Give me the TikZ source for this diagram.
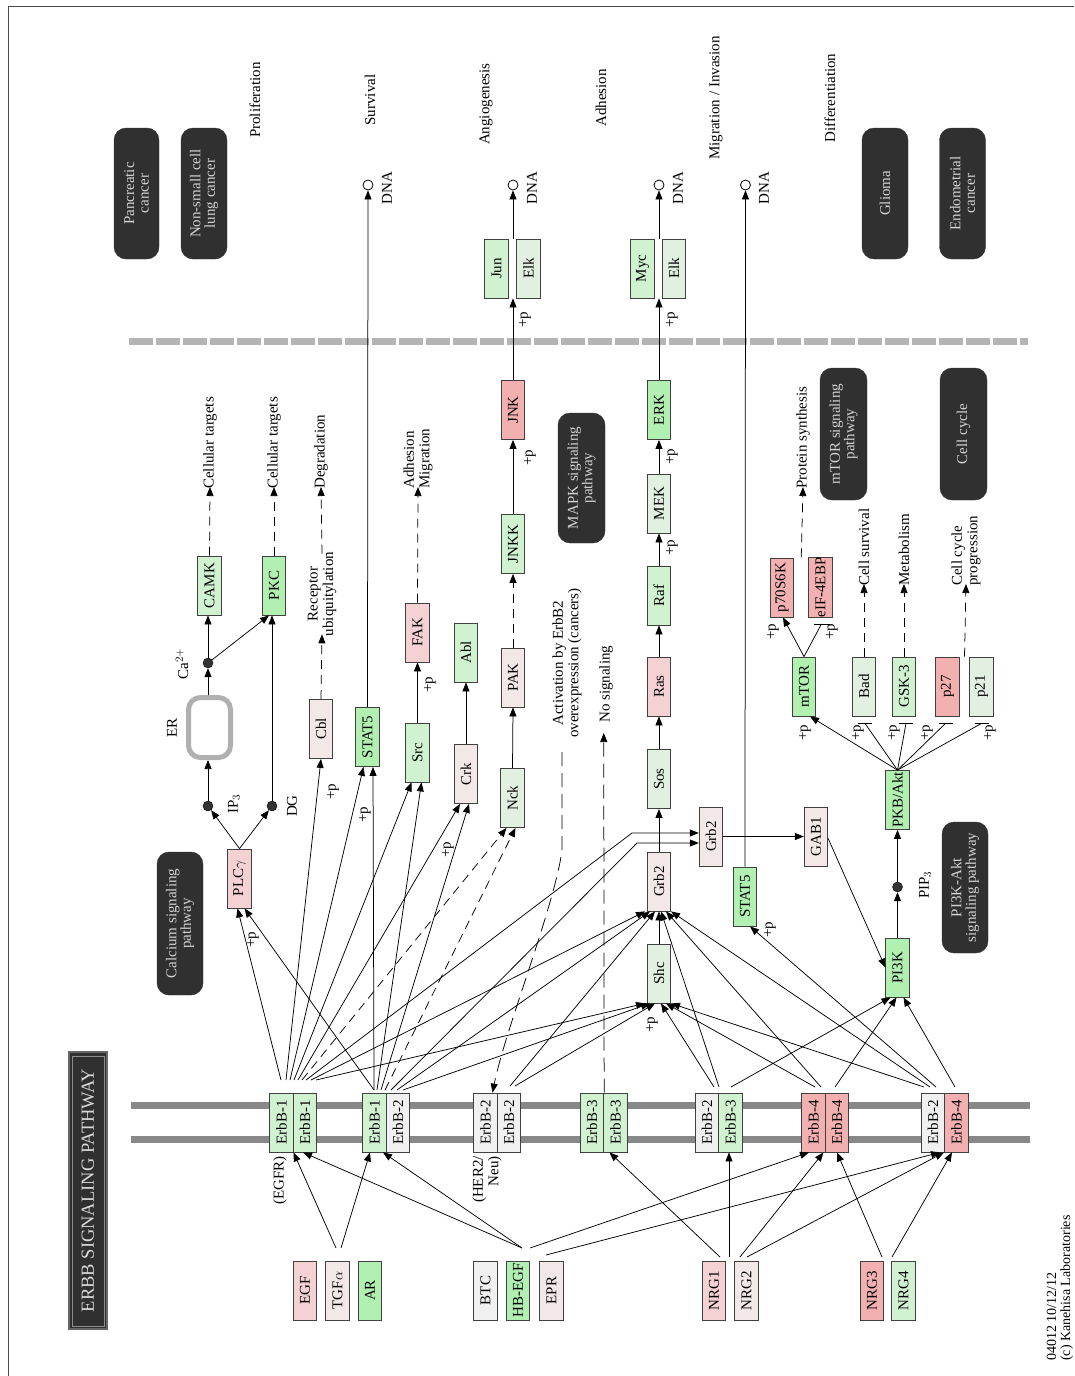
\documentclass[tikz,border=0pt]{standalone}
\usepackage{fontspec}
\setmainfont{Liberation Serif}
\usepackage{tikz}
\usetikzlibrary{arrows.meta, calc}
\definecolor{GreenHi}{HTML}{B2F0B2}
\definecolor{GreenMid}{HTML}{D0F2D0}
\definecolor{GreenLo}{HTML}{E2F0E2}
\definecolor{GrayLo}{HTML}{F0F0F0}
\definecolor{PinkLo}{HTML}{F2E8E8}
\definecolor{PinkMid}{HTML}{F4D2D4}
\definecolor{PinkHi}{HTML}{F2B0B0}
\definecolor{PathFill}{HTML}{303030}
\definecolor{PathText}{HTML}{D4D4D4}
\definecolor{MembGray}{HTML}{888888}
\definecolor{NucGray}{HTML}{B4B4B4}
\definecolor{ERgray}{HTML}{B0B0B0}
\newcommand{\kfont}{\fontsize{15}{15.5}\selectfont}
\newcommand{\vtxt}[1]{\rotatebox{90}{#1}}

\begin{document}
\begin{tikzpicture}[x=1pt, y=-1pt]
    \tikzset{%
        gene/.style={draw=black!75, line width=0.8pt, minimum width=23.5pt, minimum height=59pt, inner sep=0pt, font=\kfont},
        pathbox/.style={fill=PathFill, draw=black!80, rounded corners=12pt, rotate=90, text=PathText, align=center, font=\fontsize{15}{14.5}\selectfont, inner sep=0pt},
        lbl/.style={rotate=90, font=\kfont, inner sep=1pt, align=center},
        link/.style={line width=0.75pt, -{Triangle[length=9pt,width=7pt]}},
        plain/.style={line width=0.75pt},
        dlink/.style={link, dash pattern=on 9pt off 6pt},
        dot/.style={circle, fill=black!80, draw=black, minimum size=10pt, inner sep=0pt},
        dna/.style={circle, draw=black, fill=white, line width=0.8pt, minimum size=10pt, inner sep=0pt},
    }
    \useasboundingbox (0,0) rectangle (1074,1376);

    % frame
    \draw[line width=1pt, black!70] (8.5,1376) -- (8.5,6.5) -- (1074,6.5);

    % membrane and nucleus
    \draw[MembGray, line width=7pt] (131,1105) -- (1030,1105);
    \draw[MembGray, line width=7pt] (131,1139) -- (1030,1139);
    \draw[NucGray, line width=7pt, dash pattern=on 23.5pt off 3.5pt] (129,341) -- (1028,341);

    % title
    \node[pathbox, rounded corners=0pt, draw=black!60, line width=1.5pt, minimum width=277pt, minimum height=38pt, font=\fontsize{18.5}{18.5}\selectfont, text=black!15] (title) at (88,1190.5) {ERBB SIGNALING PATHWAY};
    \draw[black!45, line width=0.8pt] (72,1056) rectangle (104,1326);

    % pathway boxes
    \node[pathbox, minimum width=131pt, minimum height=45pt] (pancreatic) at (136.5,193.5) {Pancreatic\\cancer};
    \node[pathbox, minimum width=131pt, minimum height=46pt] (nsclc) at (204,193.5) {Non-small cell\\lung cancer};
    \node[pathbox, minimum width=131pt, minimum height=46pt] (glioma) at (885,193.5) {Glioma};
    \node[pathbox, minimum width=131pt, minimum height=46pt] (endometrial) at (962.5,193.5) {Endometrial\\cancer};
    \node[pathbox, minimum width=143pt, minimum height=46pt] (calcium) at (180,923.5) {Calcium signaling\\pathway};
    \node[pathbox, minimum width=130pt, minimum height=47pt] (mapk) at (581.5,478) {MAPK signaling\\pathway};
    \node[pathbox, minimum width=132pt, minimum height=47pt] (mtorpath) at (843.5,434) {mTOR signaling\\pathway};
    \node[pathbox, minimum width=132pt, minimum height=47pt] (cellcycle) at (963.5,434) {Cell cycle};
    \node[pathbox, minimum width=131pt, minimum height=46pt] (pi3kakt) at (965,887.5) {PI3K-Akt\\signaling pathway};

    % outcomes
    \node[lbl] (prolif) at (255,100) {Proliferation};
    \node[lbl] (surv) at (370,100) {Survival};
    \node[lbl] (angio) at (486,104) {Angiogenesis};
    \node[lbl] (adhes) at (601,98) {Adhesion};
    \node[lbl] (migr) at (716,98) {Migration / Invasion};
    \node[lbl] (diff) at (830,98) {Differentiation};

    % ligands
    \node[gene, fill=PinkMid] (egf) at (305,1290.5) {\vtxt{EGF}};
    \node[gene, fill=PinkLo] (tgfa) at (337.5,1290.5) {\vtxt{TGF$\alpha$}};
    \node[gene, fill=GreenHi] (ar) at (370,1290.5) {\vtxt{AR}};
    \node[gene, fill=GrayLo] (btc) at (485.5,1290.5) {\vtxt{BTC}};
    \node[gene, fill=GreenHi] (hbegf) at (518,1290.5) {\vtxt{HB-EGF}};
    \node[gene, fill=PinkLo] (epr) at (551.5,1290.5) {\vtxt{EPR}};
    \node[gene, fill=PinkMid] (nrg1) at (714,1290.5) {\vtxt{NRG1}};
    \node[gene, fill=PinkLo] (nrg2) at (746.5,1290.5) {\vtxt{NRG2}};
    \node[gene, fill=PinkHi] (nrg3) at (872,1290.5) {\vtxt{NRG3}};
    \node[gene, fill=GreenMid] (nrg4) at (903.5,1290.5) {\vtxt{NRG4}};

    % receptor dimers
    \node[gene, fill=GreenMid] (d1a) at (281.5,1122.5) {\vtxt{ErbB-1}};
    \node[gene, fill=GreenMid] (d1b) at (305,1122.5) {\vtxt{ErbB-1}};
    \node[gene, fill=GreenMid] (d2a) at (374.5,1122.5) {\vtxt{ErbB-1}};
    \node[gene, fill=GrayLo] (d2b) at (398,1122.5) {\vtxt{ErbB-2}};
    \node[gene, fill=GrayLo] (d3a) at (485.5,1122.5) {\vtxt{ErbB-2}};
    \node[gene, fill=GrayLo] (d3b) at (509,1122.5) {\vtxt{ErbB-2}};
    \node[gene, fill=GreenMid] (d4a) at (592,1122.5) {\vtxt{ErbB-3}};
    \node[gene, fill=GreenMid] (d4b) at (615.5,1122.5) {\vtxt{ErbB-3}};
    \node[gene, fill=GrayLo] (d5a) at (707,1122.5) {\vtxt{ErbB-2}};
    \node[gene, fill=GreenMid] (d5b) at (730.5,1122.5) {\vtxt{ErbB-3}};
    \node[gene, fill=PinkHi] (d6a) at (813.5,1122.5) {\vtxt{ErbB-4}};
    \node[gene, fill=PinkHi] (d6b) at (837,1122.5) {\vtxt{ErbB-4}};
    \node[gene, fill=GrayLo] (d7a) at (933,1122.5) {\vtxt{ErbB-2}};
    \node[gene, fill=PinkHi] (d7b) at (956.5,1122.5) {\vtxt{ErbB-4}};
    \node[lbl, anchor=east] (egfr) at (280,1155) {(EGFR)};
    \node[lbl, anchor=east, align=right] (her2) at (487,1155) {(HER2/\\Neu)};

    % calcium branch
    \node[gene, fill=PinkMid] (plcg) at (239.5,878.5) {\vtxt{PLC$\gamma$}};
    \node[dot] (ip3) at (208,806) {};
    \node[dot] (dg) at (272,806) {};
    \node[lbl] (ip3lbl) at (234,804) {IP$_3$};
    \node[lbl] (dglbl) at (292,806) {DG};
    \node[draw=ERgray, line width=5pt, rounded corners=12pt, minimum width=42pt, minimum height=60pt] (er) at (209.5,727.5) {};
    \node[lbl] (erlbl) at (172,728) {ER};
    \node[dot] (ca) at (208,663) {};
    \node[lbl] (calbl) at (182,664) {Ca$^{2+}$};
    \node[gene, fill=GreenMid] (camk) at (209.5,585.5) {\vtxt{CAMK}};
    \node[gene, fill=GreenHi] (pkc) at (274,585.5) {\vtxt{PKC}};
    \node[lbl, anchor=west] (cellt1) at (210,490) {Cellular targets};
    \node[lbl, anchor=west] (cellt2) at (274,490) {Cellular targets};

    % adaptors
    \node[gene, fill=PinkLo] (cbl) at (321,729) {\vtxt{Cbl}};
    \node[lbl] (recub) at (322,594) {Receptor\\ubiquitylation};
    \node[lbl, anchor=west] (degr) at (321,490) {Degradation};
    \node[gene, fill=GreenHi] (stat5u) at (367.5,737) {\vtxt{STAT5}};
    \node[gene, fill=GreenMid] (src) at (417.5,752.5) {\vtxt{Src}};
    \node[gene, fill=PinkMid] (fak) at (417.5,632.5) {\vtxt{FAK}};
    \node[lbl, anchor=west, align=left] (adhmig) at (418,490) {Adhesion\\Migration};
    \node[gene, fill=PinkLo] (crk) at (466,774) {\vtxt{Crk}};
    \node[gene, fill=GreenMid] (abl) at (466,652.5) {\vtxt{Abl}};
    \node[gene, fill=GreenLo] (nck) at (512.5,798) {\vtxt{Nck}};
    \node[gene, fill=PinkLo] (pak) at (513,677.5) {\vtxt{PAK}};
    \node[gene, fill=GreenMid] (jnkk) at (513,544) {\vtxt{JNKK}};
    \node[gene, fill=PinkHi] (jnk) at (513,410) {\vtxt{JNK}};
    \node[gene, fill=GreenMid] (jun) at (496.5,268.5) {\vtxt{Jun}};
    \node[gene, fill=GreenLo] (elka) at (528.5,268.5) {\vtxt{Elk}};
    \node[lbl] (actlbl) at (567,663) {Activation by ErbB2\\overexpression (cancers)};
    \node[lbl, anchor=west] (nosiglbl) at (606,724) {No signaling};

    % MAPK branch
    \node[gene, fill=PinkLo] (grb2a) at (659,881.5) {\vtxt{Grb2}};
    \node[gene, fill=GreenLo] (shc) at (659,973.5) {\vtxt{Shc}};
    \node[gene, fill=GreenLo] (sos) at (659,779) {\vtxt{Sos}};
    \node[gene, fill=PinkMid] (ras) at (659,686.5) {\vtxt{Ras}};
    \node[gene, fill=GreenMid] (raf) at (659,595.5) {\vtxt{Raf}};
    \node[gene, fill=GreenLo] (mek) at (659,503.5) {\vtxt{MEK}};
    \node[gene, fill=GreenHi] (erk) at (659,410) {\vtxt{ERK}};
    \node[gene, fill=GreenMid] (myc) at (642.5,268.5) {\vtxt{Myc}};
    \node[gene, fill=GreenLo] (elkb) at (674,268.5) {\vtxt{Elk}};
    \node[gene, fill=PinkLo] (grb2b) at (711,836.5) {\vtxt{Grb2}};
    \node[gene, fill=GreenHi] (stat5l) at (745,896.5) {\vtxt{STAT5}};
    \node[gene, fill=PinkLo] (gab1) at (816,836.5) {\vtxt{GAB1}};

    % PI3K branch
    \node[gene, fill=GreenHi] (pi3k) at (897.5,967.5) {\vtxt{PI3K}};
    \node[dot] (pip3) at (897.5,887) {};
    \node[lbl] (pip3lbl) at (925,885) {PIP$_3$};
    \node[gene, fill=GreenHi] (pkb) at (897.5,800) {\vtxt{PKB/Akt}};
    \node[gene, fill=GreenHi] (mtor) at (804,686.5) {\vtxt{mTOR}};
    \node[gene, fill=PinkHi] (p70) at (782,587.5) {\vtxt{p70S6K}};
    \node[gene, fill=PinkHi] (eif) at (820.5,587.5) {\vtxt{eIF-4EBP}};
    \node[lbl, anchor=west] (protsyn) at (803,490) {Protein synthesis};
    \node[gene, fill=GreenLo] (bad) at (864,686.5) {\vtxt{Bad}};
    \node[gene, fill=GreenMid] (gsk) at (904,686.5) {\vtxt{GSK-3}};
    \node[gene, fill=PinkHi] (p27) at (947.5,686.5) {\vtxt{p27}};
    \node[gene, fill=GreenLo] (p21) at (981.5,686.5) {\vtxt{p21}};
    \node[lbl, anchor=west] (cellsurv) at (864,587) {Cell survival};
    \node[lbl, anchor=west] (metab) at (904,587) {Metabolism};
    \node[lbl, anchor=west, align=left] (ccprog) at (966,587) {Cell cycle\\progression};

    % DNA
    \node[dna] (dna1) at (368,185) {};
    \node[dna] (dna2) at (513,185) {};
    \node[dna] (dna3) at (659,185) {};
    \node[dna] (dna4) at (745.5,185) {};
    \foreach \n/\x in {dna1/387, dna2/532, dna3/678, dna4/764} {%
        \node[lbl] (\n lbl) at (\x,188) {DNA};
    }

    % phosphorylation marks
    \foreach \x/\y [count=\i] in {253/940, 333/792, 365/815, 430/685, 448/850, 530/458, 525/320,
            672/548, 672/457, 672/320, 652/1025, 770/930, 773/632, 832/632,
            805/733, 858/733, 894/733, 927/733, 990/733} {%
        \node[lbl] (p\i) at (\x,\y) {+p};
    }

    % receptor tops
    \coordinate (t1) at (299,1080);
    \coordinate (t2) at (374,1090);
    \coordinate (t3) at (510,1086);
    \coordinate (t5) at (722,1087);
    \coordinate (t6) at (825,1087);
    \coordinate (t7) at (940,1087);
    \coordinate (k1) at (632,833);
    \coordinate (k2) at (637,843);

    % ligand tops
    \coordinate (l1) at (338,1248);
    \coordinate (l2) at (522,1248);
    \coordinate (l3) at (546,1255);
    \coordinate (l4) at (725,1257);
    \coordinate (l5) at (887,1257);

    % ligand binding
    \draw[link] ([xshift=-2pt]l1) -- ([xshift=12pt]d1a.south);
    \draw[link] ([xshift=3pt]l1) -- ([xshift=-4.5pt]d2a.south);
    \draw[link] (l2) -- ([xshift=-2pt]d1b.south);
    \draw[link] (l2) -- ([xshift=8.5pt]d2a.south);
    \draw[link] ([xshift=8pt]l2) -- ([xshift=-4.5pt]d6a.south);
    \draw[link] (l3) -- ([xshift=7pt]d7a.south);
    \draw[link] ([xshift=-5pt]l4) -- ([xshift=-6pt]d4b.south);
    \draw[link] ([xshift=4pt]l4) -- ([xshift=-1.5pt]d5b.south);
    \draw[link] ([xshift=15pt]l4) -- ([xshift=10pt]d6a.south);
    \draw[link] ([xshift=22pt]l4) -- ([xshift=11pt]d7a.south);
    \draw[link] ([xshift=-5pt]l5) -- (d6b.south);
    \draw[link] ([xshift=5pt]l5) -- ([xshift=-4.5pt]d7b.south);

    % EGFR homodimer
    \draw[link] ([xshift=-18pt]t1) -- ([xshift=-2pt]plcg.south);
    \draw[link] ([xshift=-13pt]t1) -- (cbl.south);
    \draw[link] ([xshift=-9pt]t1) -- ([xshift=-4pt]stat5u.south);
    \draw[link] ([xshift=-5pt]t1) -- ([xshift=-6pt]src.south);
    \draw[link] ([xshift=-1pt]t1) -- ([xshift=-6pt]crk.south);
    \draw[dlink] ([xshift=3pt]t1) -- ([xshift=-6pt]nck.south);
    \draw[link] ([xshift=7pt]t1) -- (k1) -- (k1 -| grb2b.west);
    \draw[link] ([xshift=12pt]t1) -- ([xshift=-14pt]grb2a.south);
    \draw[link] ([xshift=17pt]t1) -- ([xshift=-14pt]shc.south);

    % ErbB-1/ErbB-2
    \draw[link] (t2) -- ([xshift=5pt]plcg.south);
    \draw[link] (t2) -- ([xshift=5.5pt]stat5u.south);
    \draw[link] ([xshift=3pt]t2) -- ([xshift=4pt]src.south);
    \draw[link] ([xshift=7pt]t2) -- ([xshift=3pt]crk.south);
    \draw[dlink] ([xshift=11pt]t2) -- ([xshift=3pt]nck.south);
    \draw[link] ([xshift=17pt]t2) -- (k2) -- (k2 -| grb2b.west);
    \draw[link] ([xshift=23pt]t2) -- ([xshift=-9pt]grb2a.south);
    \draw[link] ([xshift=29pt]t2) -- ([xshift=-9pt]shc.south);

    % ErbB-2 homodimer
    \draw[link] (t3) -- ([xshift=-4pt]grb2a.south);
    \draw[link] ([xshift=5pt]t3) -- ([xshift=-4pt]shc.south);
    \coordinate (act) at (562,752);
    \draw[dlink, dash pattern=on 14pt off 7pt] (act) -- (562,850) .. controls (555,905) and (505,1030) .. ([xshift=7pt]d3a.north);

    % ErbB-3 homodimer
    \coordinate (nosig) at (603.75,733);
    \draw[dlink, dash pattern=on 14pt off 7pt] (d4a.north east) -- (nosig);

    % ErbB-2/ErbB-3
    \draw[link] ([xshift=-8pt]t5) -- ([xshift=2pt]shc.south);
    \draw[link] ([xshift=-3pt]t5) -- ([xshift=2pt]grb2a.south);
    \draw[link] ([xshift=9pt]t5) -- ([xshift=-7pt]pi3k.south);

    % ErbB-4 homodimer
    \draw[link] ([xshift=-10pt]t6) -- ([xshift=7pt]shc.south);
    \draw[link] ([xshift=-4pt]t6) -- ([xshift=7pt]grb2a.south);
    \draw[link] ([xshift=10pt]t6) -- ([xshift=-1pt]pi3k.south);

    % ErbB-2/ErbB-4
    \draw[link] ([xshift=-16pt]t7) -- ([xshift=12pt]shc.south);
    \draw[link] ([xshift=-10pt]t7) -- ([xshift=12pt]grb2a.south);
    \draw[link] ([xshift=-4pt]t7) -- ([xshift=5pt]stat5l.south);
    \draw[link] ([xshift=15pt]t7) -- ([xshift=6pt]pi3k.south);

    % calcium
    \draw[link] (plcg.north) -- (ip3);
    \draw[link] (plcg.north) -- (dg);
    \draw[link] (ip3) -- (ip3 |- er.south);
    \draw[link] (ip3 |- er.north) -- (ca);
    \draw[link] (ca) -- (ca |- camk.south);
    \draw[link] (ca) -- ([xshift=-5pt]pkc.south);
    \draw[link] (dg) -- (dg |- pkc.south);
    \draw[dlink] (camk.north) -- ([yshift=3pt]cellt1.west);
    \draw[dlink] (pkc.north) -- ([yshift=3pt]cellt2.west);

    % Cbl, STAT5, Src, Crk, Nck
    \draw[dlink] (cbl.north) -- ([yshift=3pt]recub.west);
    \draw[dlink] ([yshift=-3pt]recub.east) -- ([yshift=3pt]degr.west);
    \draw[link] (stat5u.north) -- (dna1);
    \draw[link] (src.north) -- (fak.south);
    \draw[dlink] (fak.north) -- ([yshift=3pt]adhmig.west);
    \draw[link] (crk.north) -- (abl.south);
    \draw[link] (nck.north) -- (pak.south);
    \draw[dlink] (pak.north) -- (jnkk.south);
    \draw[link] (jnkk.north) -- (jnk.south);
    \draw[link] (jnk.north) -- (jnk.north |- jun.south);
    \draw[link] (jnk.north |- jun.north) -- (dna2);

    % MAPK cascade
    \draw[link] (shc.north) -- (grb2a.south);
    \draw[link] (grb2a.north) -- (sos.south);
    \draw[link] (sos.north) -- (ras.south);
    \draw[link] (ras.north) -- (raf.south);
    \draw[link] (raf.north) -- (mek.south);
    \draw[link] (mek.north) -- (erk.south);
    \draw[link] (erk.north) -- (erk.north |- myc.south);
    \draw[link] (erk.north |- myc.north) -- (dna3);
    \draw[link] (grb2b.east) -- (gab1.west);
    \draw[link] ([yshift=-2pt]gab1.east) -- (pi3k.west);
    \draw[link] (stat5l.north) -- (dna4);

    % PI3K-Akt
    \draw[link] (pi3k.north) -- (pip3);
    \draw[link] (pip3) -- (pkb.south);
    \draw[link] (pkb.north) -- ([xshift=6pt]mtor.south);
    \foreach \g/\dx in {bad/1, gsk/2, p27/-2, p21/0} {%
        \draw[plain] (pkb.north) -- ([xshift=\dx pt, yshift=-7pt]\g.south);
        \draw[plain] ([xshift=\dx pt-7pt, yshift=-7pt]\g.south) -- ([xshift=\dx pt+7pt, yshift=-7pt]\g.south);
    }
    \draw[link] (mtor.north) -- ([xshift=1pt]p70.south);
    \draw[plain] (mtor.north) -- ([xshift=1pt, yshift=-6pt]eif.south);
    \draw[plain] ([xshift=-7pt, yshift=-6pt]eif.south) -- ([xshift=9pt, yshift=-6pt]eif.south);
    \draw[dlink] ($(p70.north)!0.5!(eif.north)$) -- ([yshift=3pt]protsyn.west);
    \draw[dlink] (bad.north) -- ([yshift=3pt]cellsurv.west);
    \draw[dlink] (gsk.north) -- ([yshift=3pt]metab.west);
    \draw[dlink] ($(p27.north)!0.5!(p21.north)$) -- ([yshift=3pt]ccprog.west);

    % footer
    \node[lbl, anchor=west, align=left, font=\fontsize{14}{14}\selectfont] (foot) at (1060,1362) {04012 10/12/12\\(c) Kanehisa Laboratories};
\end{tikzpicture}
\end{document}
